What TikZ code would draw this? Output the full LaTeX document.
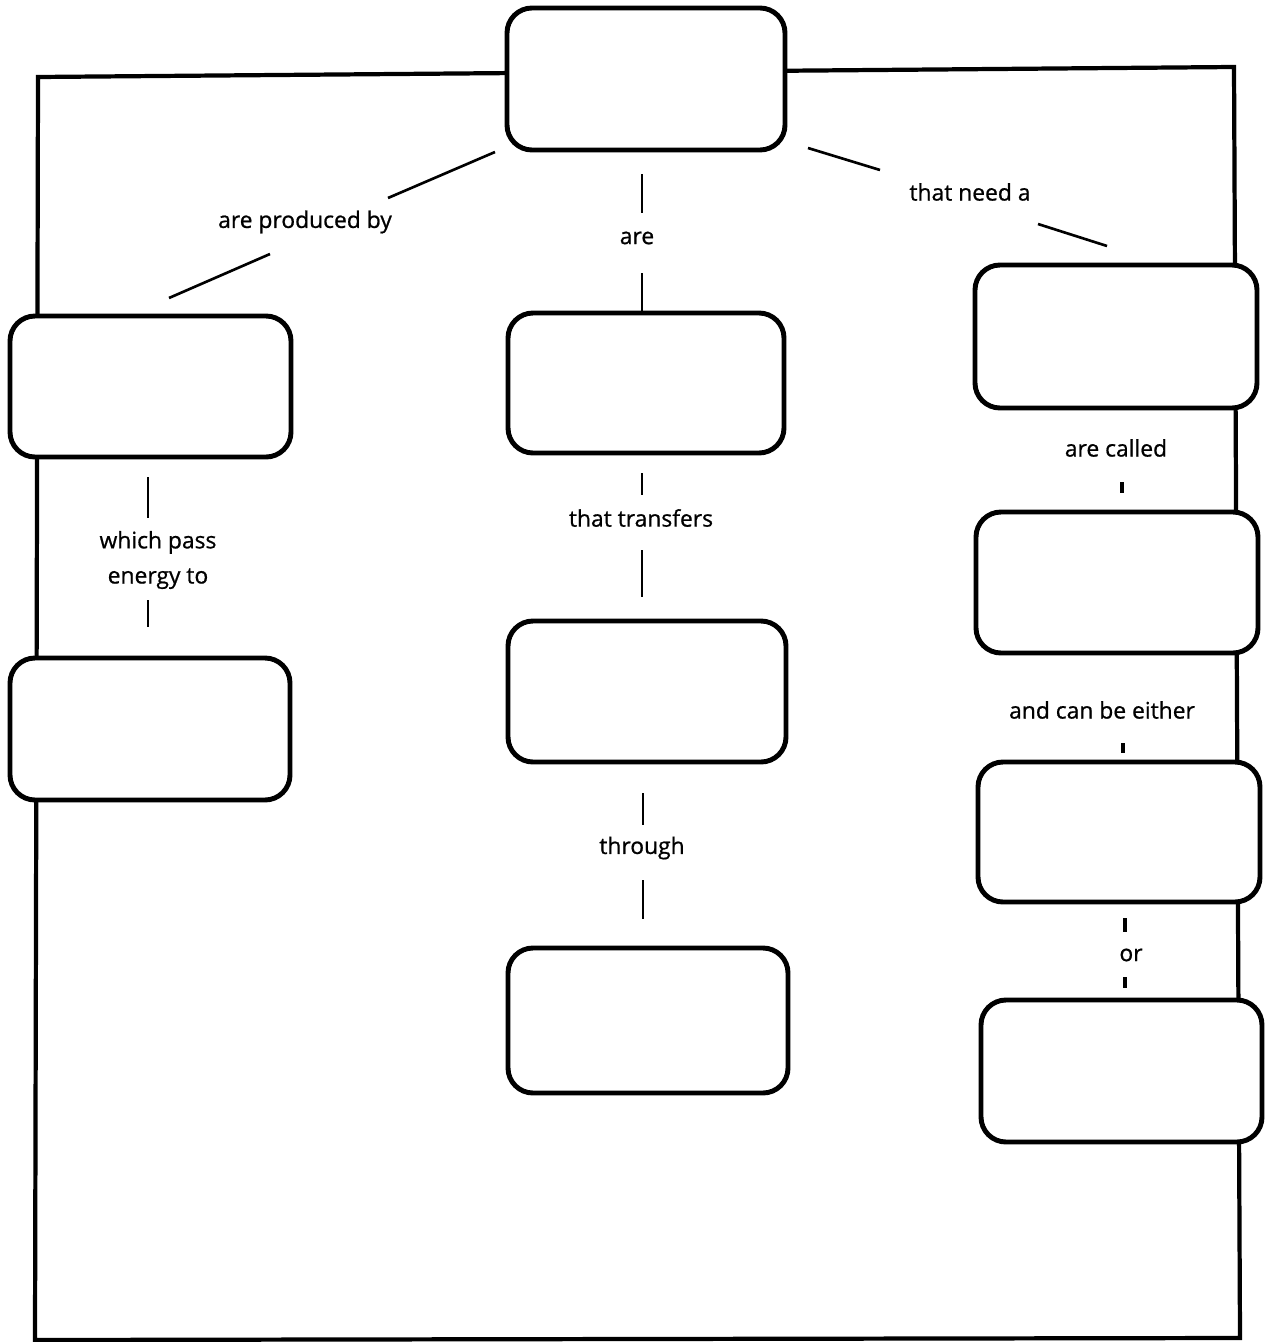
\documentclass[tikz,border=0pt]{standalone}
\usepackage{fontspec}
\setmainfont{Open Sans}
\newfontfamily\labfont[FakeBold=0.8]{Open Sans}
\tikzset{
  box/.style={draw=black, fill=white, line width=2.8pt, rounded corners=0.5cm, inner sep=0pt},
  frameline/.style={draw=black, line width=2.4pt, line join=miter},
  link/.style={draw=black, line width=1.5pt},
  tick/.style={draw=black, line width=1.9pt},
  lab/.style={font=\labfont\fontsize{13}{20}\selectfont, inner sep=1pt, align=center}
}
\newcommand{\bx}[5]{\node[box, minimum width=#4*0.02cm, minimum height=#5*0.02cm] (#1) at (#2,#3) {};}
\begin{document}
\begin{tikzpicture}[x=0.02cm, y=-0.02cm]
\useasboundingbox (0,0) rectangle (1265,1342);
% outer frame
\coordinate (fTL) at (38,77);
\coordinate (fTR) at (1234,67);
\coordinate (fBR) at (1240,1338);
\coordinate (fBL) at (35,1340);
\draw[frameline] (fTL) -- (fTR) -- (fBR) -- (fBL) -- cycle;
% boxes
\bx{top}{646}{79}{278}{142}
\bx{L1}{150.5}{386.5}{281}{141}
\bx{L2}{150}{729}{280}{142}
\bx{M1}{646}{383}{276}{140}
\bx{M2}{647}{691.5}{278}{141}
\bx{M3}{648}{1020.5}{280}{145}
\bx{R1}{1116}{336.5}{282}{143}
\bx{R2}{1117}{582.5}{282}{141}
\bx{R3}{1119}{832}{282}{140}
\bx{R4}{1121.5}{1071}{281}{142}
% labels
\node[lab] (lprod) at (305,222) {are produced by};
\node[lab] (lare) at (637,238) {are};
\node[lab] (lneed) at (970,192) {that need a};
\node[lab] (lpass) at (158,560) {which pass\\energy to};
\node[lab] (ltrans) at (641,518) {that transfers};
\node[lab] (lthrough) at (642,848) {through};
\node[lab] (lcalled) at (1116,448) {are called};
\node[lab] (leither) at (1102,710) {and can be either};
\node[lab] (lor) at (1131,955) {or};
% connector end points
\coordinate (a1) at (495,152); \coordinate (a2) at (388,198);
\coordinate (a3) at (270,254); \coordinate (a4) at (169,298);
\coordinate (b1) at (642,174); \coordinate (b2) at (642,213);
\coordinate (b3) at (642,273); \coordinate (b4) at (642,312);
\coordinate (c1) at (808,148); \coordinate (c2) at (880,170);
\coordinate (c3) at (1038,224); \coordinate (c4) at (1107,246);
\coordinate (d1) at (148,477); \coordinate (d2) at (148,518);
\coordinate (d3) at (148,600); \coordinate (d4) at (148,627);
\coordinate (e1) at (642,473); \coordinate (e2) at (642,495);
\coordinate (e3) at (642,550); \coordinate (e4) at (642,597);
\coordinate (f1) at (643,793); \coordinate (f2) at (643,825);
\coordinate (f3) at (643,880); \coordinate (f4) at (643,919);
\coordinate (g1) at (1122,482); \coordinate (g2) at (1122,493);
\coordinate (h1) at (1123,743); \coordinate (h2) at (1123,753);
\coordinate (i1) at (1125,918); \coordinate (i2) at (1125,932);
\coordinate (i3) at (1125,977); \coordinate (i4) at (1125,988);
% connectors
\draw[link] (a1) -- (a2);
\draw[link] (a3) -- (a4);
\draw[link] (b1) -- (b2);
\draw[link] (b3) -- (b4);
\draw[link] (c1) -- (c2);
\draw[link] (c3) -- (c4);
\draw[link] (d1) -- (d2);
\draw[link] (d3) -- (d4);
\draw[link] (e1) -- (e2);
\draw[link] (e3) -- (e4);
\draw[link] (f1) -- (f2);
\draw[link] (f3) -- (f4);
\draw[tick] (g1) -- (g2);
\draw[tick] (h1) -- (h2);
\draw[tick] (i1) -- (i2);
\draw[tick] (i3) -- (i4);
\end{tikzpicture}
\end{document}
